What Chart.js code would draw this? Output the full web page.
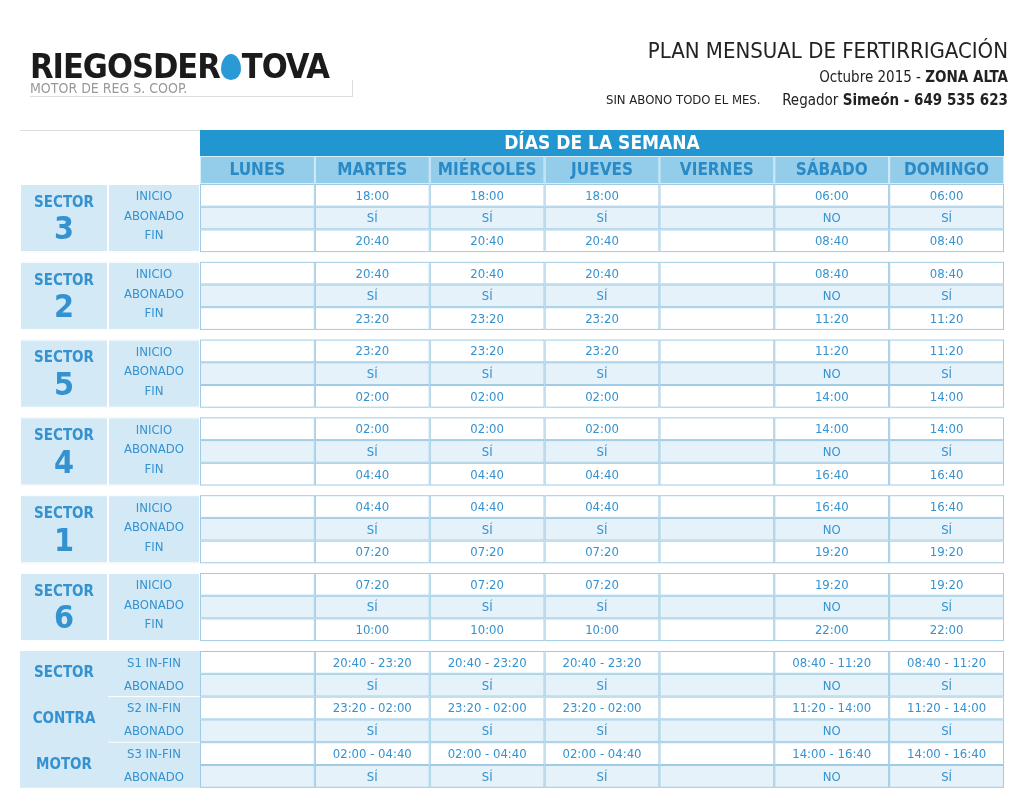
<!DOCTYPE html>
<html><head><meta charset="utf-8">
<script src="https://cdn.jsdelivr.net/npm/chart.js@4"></script>
<style>
body{margin:0;background:#fff;font-family:"DejaVu Sans Condensed",sans-serif;}
#wrap{position:relative;width:1024px;height:812px;}
#c{position:absolute;left:0;top:0;}
.logo{position:absolute;left:30px;top:46px;font:bold 34px "DejaVu Sans Condensed",sans-serif;letter-spacing:-1px;color:#1b1b1b;}
.logo .d{display:inline-block;width:20px;height:26px;background:#2a9ad6;border-radius:50% 50% 50% 50%/60% 60% 40% 40%;margin:0 1px;vertical-align:-2px}
.sub{position:absolute;left:30px;top:80px;font:14px "DejaVu Sans Condensed",sans-serif;color:#999;border-bottom:1px solid #ddd;border-right:1px solid #ddd;width:322px}
.t1{position:absolute;right:16px;top:38px;font-size:22px;color:#222}
.t2{position:absolute;right:16px;top:68px;font-size:15px;color:#222}
.t3{position:absolute;right:16px;top:91px;font-size:15px;color:#222}
.t4{position:absolute;left:606px;top:92px;font-size:13px;color:#222}
</style></head><body>
<div id="wrap">
<canvas id="c" width="1024" height="812"></canvas>
<div class="logo">RIEGOSDER<span class="d"></span>TOVA</div>
<div class="sub">MOTOR DE REG S. COOP.</div>
<div class="t1">PLAN MENSUAL DE FERTIRRIGACIÓN</div>
<div class="t2">Octubre 2015 - <b>ZONA ALTA</b></div>
<div class="t4">SIN ABONO TODO EL MES.</div>
<div class="t3">Regador <b>Simeón - 649 535 623</b></div>
</div>
<script>
const days = ["LUNES","MARTES","MIÉRCOLES","JUEVES","VIERNES","SÁBADO","DOMINGO"];
const sectors = ["3","2","5","4","1","6"];
// per sector: weekday (Ma-Ju) start/end, weekend (Sa-Do) start/end
const weekdayStart = ["18:00","20:40","23:20","02:00","04:40","07:20"];
const weekdayEnd   = ["20:40","23:20","02:00","04:40","07:20","10:00"];
const weekendStart = ["06:00","08:40","11:20","14:00","16:40","19:20"];
const weekendEnd   = ["08:40","11:20","14:00","16:40","19:20","22:00"];
// which schedule each day uses: "" none, "w" weekday, "e" weekend
const dayKind = ["","w","w","w","","e","e"];
const abonado = ["","SÍ","SÍ","SÍ","","NO","SÍ"];
const motorLabels = ["S1 IN-FIN","S2 IN-FIN","S3 IN-FIN"];
const motorWeekday = ["20:40 - 23:20","23:20 - 02:00","02:00 - 04:40"];
const motorWeekend = ["08:40 - 11:20","11:20 - 14:00","14:00 - 16:40"];

const F = '"DejaVu Sans Condensed",sans-serif';
const BLUE='#3592d0', LINE='#9fcbe4', LIGHT='#e5f2fa', SIDE='#d3e9f5';

const tablePlugin = {
  id:'table',
  afterDraw(chart){
    const ctx=chart.ctx, X=v=>chart.scales.x.getPixelForValue(v), Y=v=>chart.scales.y.getPixelForValue(v);
    const colX=[20,108,200]; for(let i=1;i<=7;i++) colX.push(200+i*114.86);
    function cell(x0,y0,x1,y1,fill,stroke){
      const a=X(x0),b=Y(y0),w=X(x1)-a,h=Y(y1)-b;
      if(fill){ctx.fillStyle=fill;ctx.fillRect(a,b,w,h);}
      if(stroke){ctx.strokeStyle=stroke;ctx.lineWidth=1;ctx.strokeRect(a+0.5,b+0.5,w-1,h-1);}
    }
    function text(s,x,y,font,color){
      ctx.font=font;ctx.fillStyle=color;ctx.textAlign='center';ctx.textBaseline='middle';
      ctx.fillText(s,X(x),Y(y));
    }
    // header
    cell(200,130,1004,156,'#2196d0');
    text('DÍAS DE LA SEMANA',602,144,'bold 19px '+F,'#fff');
    ctx.strokeStyle='#ddd';ctx.beginPath();ctx.moveTo(X(20),Y(130.5));ctx.lineTo(X(200),Y(130.5));ctx.stroke();
    days.forEach((d,i)=>{
      cell(colX[i+2],156,colX[i+3],184,'#93cdea','#d8eef8');
      text(d,(colX[i+2]+colX[i+3])/2,171,'bold 17px '+F,'#2a8ac6');
    });
    // sector blocks
    sectors.forEach((s,k)=>{
      const y0=184+k*77.8, rh=22.7;
      cell(20,y0,108,y0+3*rh,SIDE,'#fff');
      cell(108,y0,200,y0+3*rh,SIDE,'#fff');
      text('SECTOR',64,y0+19,'bold 15px '+F,BLUE);
      text(s,64,y0+47,'bold 32px '+F,BLUE);
      ['INICIO','ABONADO','FIN'].forEach((l,r)=>text(l,154,y0+13+r*19.5,'13px '+F,BLUE));
      days.forEach((d,i)=>{
        const xa=colX[i+2],xb=colX[i+3],xm=(xa+xb)/2;
        for(let r=0;r<3;r++) cell(xa,y0+r*rh,xb,y0+(r+1)*rh,r==1?LIGHT:'#fff',LINE);
        if(dayKind[i]){
          const st=dayKind[i]=='w'?weekdayStart[k]:weekendStart[k];
          const en=dayKind[i]=='w'?weekdayEnd[k]:weekendEnd[k];
          text(st,xm,y0+rh*0.5+1,'13px '+F,BLUE);
          text(abonado[i],xm,y0+rh*1.5+1,'13px '+F,BLUE);
          text(en,xm,y0+rh*2.5+1,'13px '+F,BLUE);
        }
      });
    });
    // contra motor block
    const y0=651, rh=22.8;
    cell(20,y0,108,y0+6*rh,SIDE);
    cell(108,y0,200,y0+6*rh,SIDE);
    ['SECTOR','CONTRA','MOTOR'].forEach((l,r)=>text(l,64,y0+22+r*46,'bold 15px '+F,BLUE));
    motorLabels.forEach((l,m)=>{
      const yy=y0+m*2*rh;
      if(m>0){ctx.strokeStyle='#fff';ctx.beginPath();ctx.moveTo(X(108),Y(yy));ctx.lineTo(X(200),Y(yy));ctx.stroke();}
      text(l,154,yy+rh*0.5+1,'13px '+F,BLUE);
      text('ABONADO',154,yy+rh*1.5+1,'13px '+F,BLUE);
      days.forEach((d,i)=>{
        const xa=colX[i+2],xb=colX[i+3],xm=(xa+xb)/2;
        cell(xa,yy,xb,yy+rh,'#fff',LINE);
        cell(xa,yy+rh,xb,yy+2*rh,LIGHT,LINE);
        if(dayKind[i]){
          text(dayKind[i]=='w'?motorWeekday[m]:motorWeekend[m],xm,yy+rh*0.5+1,'13px '+F,BLUE);
          text(abonado[i],xm,yy+rh*1.5+1,'13px '+F,BLUE);
        }
      });
    });
  }
};

new Chart(document.getElementById('c'),{
  type:'scatter',
  data:{datasets:[{data:[]}]},
  options:{
    responsive:false,animation:false,
    layout:{padding:0},
    plugins:{legend:{display:false},tooltip:{enabled:false}},
    scales:{
      x:{type:'linear',min:0,max:1024,display:false},
      y:{type:'linear',min:0,max:812,reverse:true,display:false}
    }
  },
  plugins:[tablePlugin]
});
</script>
</body></html>
